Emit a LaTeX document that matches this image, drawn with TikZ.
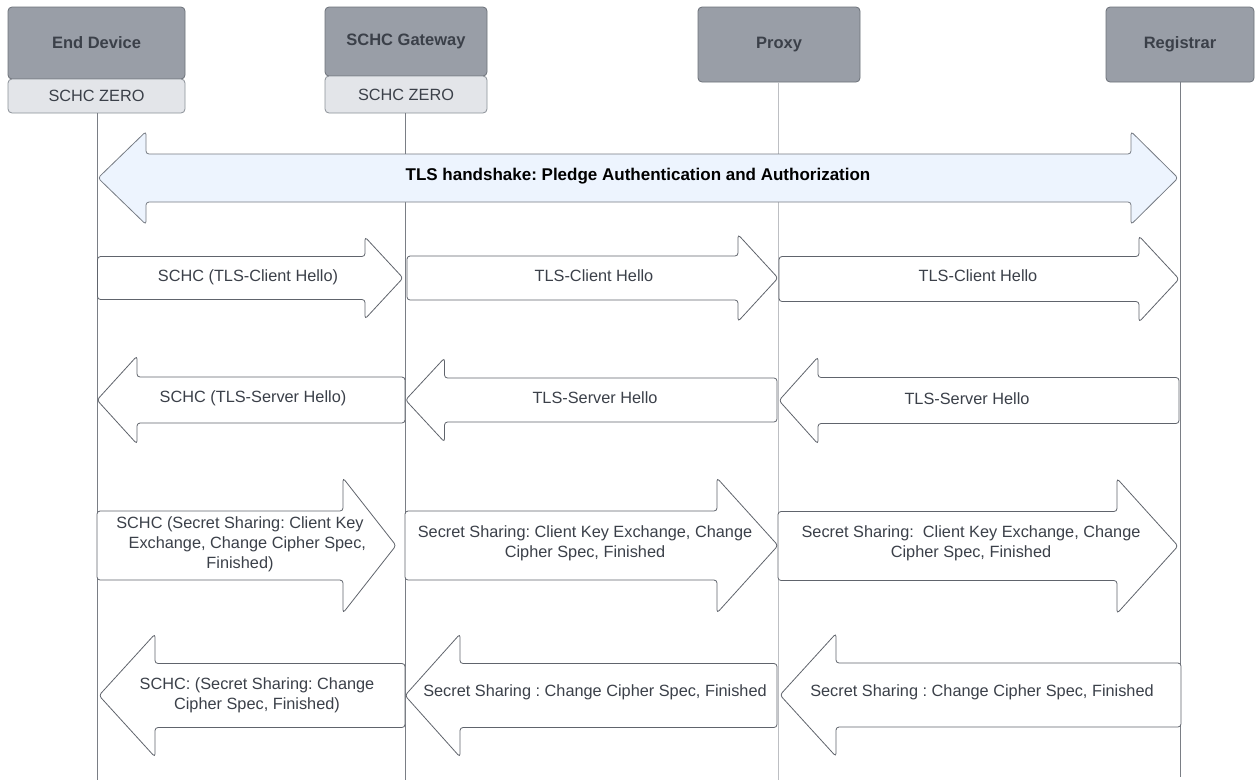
\documentclass[tikz,border=0pt]{standalone}
\usepackage{fontspec}
\setmainfont{Liberation Sans}
\frenchspacing
\definecolor{hdrfill}{HTML}{999EA7}
\definecolor{hdrline}{HTML}{6C7179}
\definecolor{subfill}{HTML}{E3E5E9}
\definecolor{subline}{HTML}{8B9097}
\definecolor{inktext}{HTML}{3B4049}
\definecolor{msgline}{HTML}{60646C}
\definecolor{bandfill}{HTML}{EDF4FE}
\definecolor{bandline}{HTML}{767B83}
\definecolor{lifedark}{HTML}{7A7E85}
\definecolor{lifelight}{HTML}{BDBFC3}

% right-pointing message arrow: x-left, x-tip, y-centre, shaft half-height, head half-height, head length
\newcommand\msgright[6]{%
  \draw[msgshape] (#1,#3-#4) -- (#2-#6,#3-#4) -- (#2-#6,#3-#5) -- (#2,#3)
    -- (#2-#6,#3+#5) -- (#2-#6,#3+#4) -- (#1,#3+#4) -- cycle;}
% left-pointing message arrow: x-tip, x-right, y-centre, shaft half-height, head half-height, head length
\newcommand\msgleft[6]{%
  \draw[msgshape] (#2,#3-#4) -- (#1+#6,#3-#4) -- (#1+#6,#3-#5) -- (#1,#3)
    -- (#1+#6,#3+#5) -- (#1+#6,#3+#4) -- (#2,#3+#4) -- cycle;}

\begin{document}
\begin{tikzpicture}[x=1pt,y=-1pt,
  every node/.style={font=\fontsize{16.3}{20}\selectfont, text=inktext},
  hdr/.style={draw=hdrline, fill=hdrfill, rounded corners=4pt, line width=0.8pt,
              font=\fontsize{16.5}{20}\selectfont\bfseries},
  sub/.style={draw=subline, fill=subfill, rounded corners=4pt, line width=0.8pt},
  life/.style={draw=lifedark, line width=0.8pt},
  lifelt/.style={draw=lifelight, line width=0.8pt},
  msgshape/.style={draw=msgline, fill=white, line width=0.8pt, rounded corners=3pt},
  band/.style={draw=bandline, fill=bandfill, line width=0.8pt, rounded corners=3pt},
  lbl/.style={align=center, inner sep=0pt}]

\useasboundingbox (0,0) rectangle (1255,780);

% participants
\node[hdr, minimum width=177pt, minimum height=72pt] (ed) at (96.5,43) {End Device};
\node[sub, minimum width=177pt, minimum height=34pt] (edz) at (96.5,96) {SCHC ZERO};
\node[hdr, minimum width=162pt, minimum height=69pt] (gw) at (406,41.5) {SCHC Gateway};
\node[sub, minimum width=162pt, minimum height=37pt] (gwz) at (406,94.5) {SCHC ZERO};
\node[hdr, minimum width=162pt, minimum height=75pt] (px) at (779,44.5) {Proxy};
\node[hdr, minimum width=148pt, minimum height=75pt] (rg) at (1180,44.5) {Registrar};

% lifelines
\coordinate (edEnd) at (97,780);
\coordinate (gwEnd) at (405,780);
\coordinate (pxEnd) at (778,780);
\coordinate (rgEnd) at (1180,777);
\draw[life] (edz.south -| edEnd) -- (edEnd);
\draw[life] (gwz.south -| gwEnd) -- (gwEnd);
\draw[lifelt] (px.south -| pxEnd) -- (pxEnd);
\draw[life] (rg.south -| rgEnd) -- (rgEnd);

% TLS handshake band (double-headed)
\draw[band] (98,178) -- (146,131.5) -- (146,154) -- (1131,154) -- (1131,131.5) -- (1178,178)
  -- (1131,224.5) -- (1131,202) -- (146,202) -- (146,224.5) -- cycle;
\node[lbl, text=black, font=\fontsize{17}{20}\selectfont\bfseries] (tls) at (638,176)
  {TLS handshake: Pledge Authentication and Authorization};

% Client Hello
\msgright{97.5}{403}{278}{21.5}{41}{38}
\msgright{407}{778}{278}{22}{43.5}{40}
\msgright{779}{1179}{279}{22.5}{43}{40}
\node[lbl] (ch1) at (248,277) {SCHC (TLS-Client Hello)};
\node[lbl] (ch2) at (594,276) {TLS-Client Hello};
\node[lbl] (ch3) at (978,276) {TLS-Client Hello};

% Server Hello
\msgleft{97}{405}{400}{23}{44}{40}
\msgleft{405.5}{777}{400}{22}{42}{39}
\msgleft{779}{1179}{400.5}{23}{43.5}{39}
\node[lbl] (sh1) at (253,398) {SCHC (TLS-Server Hello)};
\node[lbl] (sh2) at (595,398) {TLS-Server Hello};
\node[lbl] (sh3) at (967,399) {TLS-Server Hello};

% Client key exchange
\msgright{97}{396}{545.5}{34.5}{67.5}{53}
\msgright{405}{778}{545.5}{34.5}{67.5}{61}
\msgright{778}{1178}{546}{34.5}{67.5}{61}
\node[lbl] (kx1) at (240,544) {SCHC (Secret Sharing: Client Key\\\hspace*{0.9em}Exchange, Change Cipher Spec,\\Finished)};
\node[lbl] (kx2) at (585,543) {Secret Sharing: Client Key Exchange, Change\\Cipher Spec, Finished};
\node[lbl] (kx3) at (971,543) {Secret Sharing:\ \ Client Key Exchange, Change\\Cipher Spec, Finished};

% Change cipher spec
\msgleft{99}{405}{695.5}{32}{61.5}{56}
\msgleft{405}{777}{695.5}{32}{61.5}{55}
\msgleft{780}{1181}{695}{32}{61.5}{56}
\node[lbl] (cc1) at (257,695) {SCHC: (Secret Sharing: Change\\Cipher Spec, Finished)};
\node[lbl] (cc2) at (595,692) {Secret Sharing : Change Cipher Spec, Finished};
\node[lbl] (cc3) at (982,692) {Secret Sharing : Change Cipher Spec, Finished};

\end{tikzpicture}
\end{document}
